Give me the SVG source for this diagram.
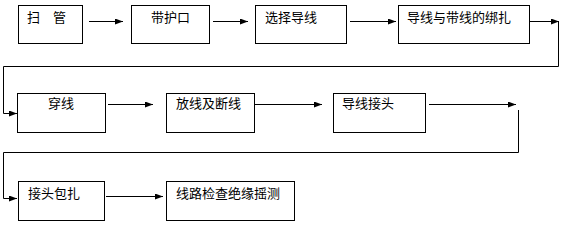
<svg xmlns="http://www.w3.org/2000/svg" width="566" height="230" viewBox="0 0 566 230">
<defs>
<marker id="ah" markerWidth="8" markerHeight="6" refX="8" refY="3" orient="auto" markerUnits="userSpaceOnUse">
<path d="M0,0 L8,3 L0,6 z" fill="#000"/>
</marker>
<style>
.box{fill:#fff;stroke:#000;stroke-width:1}
.t{font-family:"Noto Sans CJK SC","Noto Sans",sans-serif;font-size:13px;fill:#000}
.c{fill:none;stroke:#000;stroke-width:1}
</style>
</defs>
<rect width="566" height="230" fill="#fff"/>
<g id="n1"><rect class="box" x="18.5" y="5.5" width="64" height="38"/><text class="t" x="27" y="22">扫　管</text></g>
<g id="n2"><rect class="box" x="131.5" y="5.5" width="78" height="38"/><text class="t" x="151" y="22">带护口</text></g>
<g id="n3"><rect class="box" x="255.5" y="5.5" width="91" height="38"/><text class="t" x="265" y="22">选择导线</text></g>
<g id="n4"><rect class="box" x="398.5" y="5.5" width="131" height="38"/><text class="t" x="407" y="22">导线与带线的绑扎</text></g>
<g id="n5"><rect class="box" x="17.5" y="93.5" width="88" height="39"/><text class="t" x="48" y="108">穿线</text></g>
<g id="n6"><rect class="box" x="166.5" y="93.5" width="88" height="39"/><text class="t" x="176" y="108">放线及断线</text></g>
<g id="n7"><rect class="box" x="333.5" y="93.5" width="92" height="39"/><text class="t" x="342" y="108">导线接头</text></g>
<g id="n8"><rect class="box" x="18.5" y="181.5" width="86" height="39"/><text class="t" x="28" y="198">接头包扎</text></g>
<g id="n9"><rect class="box" x="166.5" y="181.5" width="128" height="39"/><text class="t" x="176" y="198">线路检查绝缘摇测</text></g>
<g id="connectors">
<line class="c" x1="89" y1="21.5" x2="123" y2="21.5" marker-end="url(#ah)"/>
<line class="c" x1="213" y1="21.5" x2="248" y2="21.5" marker-end="url(#ah)"/>
<line class="c" x1="350" y1="21.5" x2="396" y2="21.5" marker-end="url(#ah)"/>
<line class="c" x1="530" y1="21.5" x2="559" y2="21.5" marker-end="url(#ah)"/>
<polyline class="c" points="558.5,22 558.5,66.5 3.5,66.5 3.5,113.5 17,113.5" marker-end="url(#ah)"/>
<line class="c" x1="108" y1="104.5" x2="153" y2="104.5" marker-end="url(#ah)"/>
<line class="c" x1="254" y1="104.5" x2="322" y2="104.5" marker-end="url(#ah)"/>
<line class="c" x1="429" y1="104.5" x2="516" y2="104.5" marker-end="url(#ah)"/>
<polyline class="c" points="518.5,110 518.5,152.5 3.5,152.5 3.5,198.5 17,198.5" marker-end="url(#ah)"/>
<line class="c" x1="106" y1="196.5" x2="163" y2="196.5" marker-end="url(#ah)"/>
</g>
</svg>
